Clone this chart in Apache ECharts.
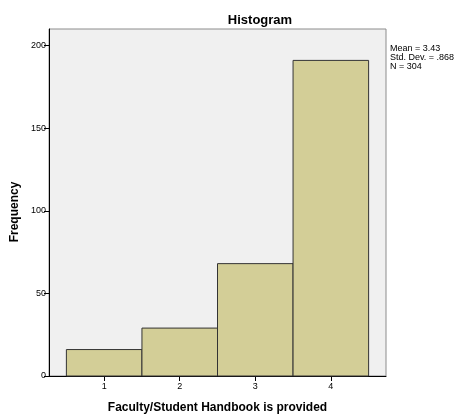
<!DOCTYPE html>
<html><head><meta charset="utf-8">
<script src="https://cdn.jsdelivr.net/npm/echarts@6/dist/echarts.min.js"></script>
<style>html,body{margin:0;padding:0;background:#fff}#c{width:457px;height:419px}</style>
</head><body><div id="c"></div>
<script>
const categories = [1, 2, 3, 4];
const frequencies = [16, 29, 68, 191];
const yTicks = [0, 50, 100, 150, 200];
const statsLines = ['Mean = 3.43', 'Std. Dev. = .868', 'N = 304'];

const chart = echarts.init(document.getElementById('c'));
const data = categories.map((c, i) => [c - 0.5, c + 0.5, frequencies[i]]);
const font = 'Liberation Sans, Arial, sans-serif';
chart.setOption({
  animation: false,
  title: {text: 'Histogram', left: 255, top: 9, textAlign: 'center',
    textStyle: {fontFamily: font, fontSize: 13, fontWeight: 'bold', color: '#000'}},
  grid: {left: 49, top: 29, right: 71, bottom: 42, show: true,
    backgroundColor: '#f0f0f0', borderColor: '#8c8c8c', borderWidth: 1},
  xAxis: {type: 'value', min: 0.27, max: 4.73,
    axisLine: {show: true, onZero: false, lineStyle: {color: '#000'}},
    axisTick: {show: true, length: 5, customValues: categories, lineStyle: {color: '#000'}},
    axisLabel: {customValues: categories, fontFamily: font, fontSize: 9, color: '#000', margin: 6},
    splitLine: {show: false},
    name: 'Faculty/Student Handbook is provided', nameLocation: 'middle', nameGap: 26,
    nameTextStyle: {fontFamily: font, fontSize: 12, fontWeight: 'bold', color: '#000'}},
  yAxis: {type: 'value', min: 0, max: 210,
    axisLine: {show: true, lineStyle: {color: '#000'}},
    axisTick: {show: true, length: 5, customValues: yTicks, lineStyle: {color: '#000'}},
    axisLabel: {customValues: yTicks, fontFamily: font, fontSize: 9, color: '#000', margin: 3},
    splitLine: {show: false}},
  graphic: [
    {type: 'text', x: 15, y: 212, rotation: Math.PI / 2,
      style: {text: 'Frequency', font: 'bold 12px ' + font, fill: '#000', align: 'center', verticalAlign: 'middle'}},
    {type: 'text', left: 390, top: 44,
      style: {text: statsLines.join('\n'), font: '9px ' + font, lineHeight: 9, fill: '#000'}}
  ],
  series: [{
    type: 'custom',
    data: data,
    renderItem: function (params, api) {
      const p0 = api.coord([api.value(0), 0]);
      const p1 = api.coord([api.value(1), api.value(2)]);
      return {type: 'rect',
        shape: {x: p0[0], y: p1[1], width: p1[0] - p0[0], height: p0[1] - p1[1]},
        style: {fill: '#d3ce97', stroke: '#333', lineWidth: 1}};
    }
  }]
});
</script></body></html>
